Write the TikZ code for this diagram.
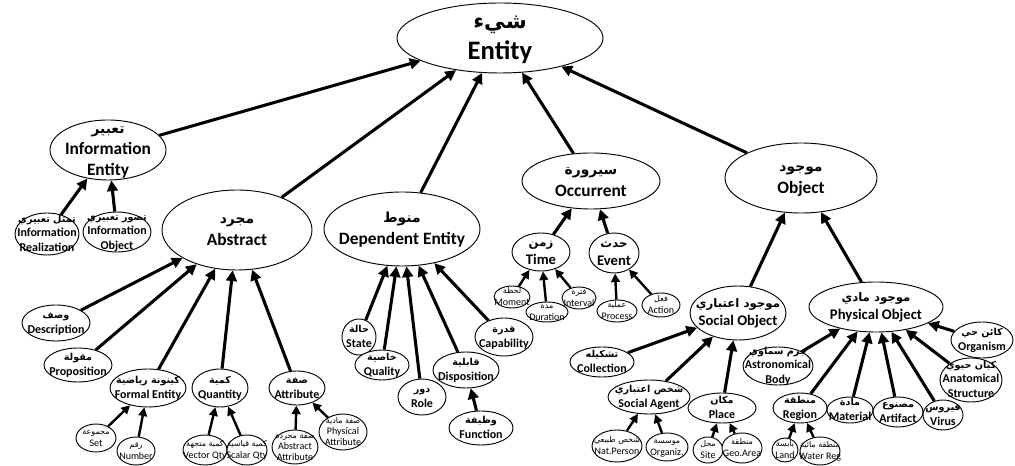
\documentclass[tikz,border=0pt]{standalone}
\usepackage{fontspec}
\setmainfont{Carlito}
\newfontfamily\arabicfont[Script=Arabic,Scale=0.8]{DejaVu Sans}
\usetikzlibrary{shapes.geometric,arrows.meta}
\TeXXeTstate=1

% Arabic line over English line, zero-size so the ellipse keeps its own size
\newcommand{\entlbl}[2]{\smash{\makebox[0pt]{\raisebox{-0.25em}{%
  \begin{tabular}{@{}c@{}}{\arabicfont\beginR #1\endR}\\ #2\end{tabular}}}}}

\tikzset{
  ell/.style={ellipse, draw, line width=0.7pt, inner sep=0pt, fill=white},
  es/.style 2 args={minimum width=#1*1.5pt, minimum height=#2*1.5pt},
  rootnode/.style={ell, font=\fontsize{20}{23}\selectfont\bfseries},
  mainnode/.style={ell, font=\fontsize{13}{16}\selectfont\bfseries},
  midnode/.style={ell, font=\fontsize{11}{13.5}\selectfont\bfseries},
  subnode/.style={ell, font=\fontsize{9}{11}\selectfont\bfseries},
  leafnode/.style={ell, font=\fontsize{7.5}{8.5}\selectfont},
  isa/.style={line width=2.3pt, -{Triangle[length=8pt,width=8pt]}},
  isathin/.style={line width=1.8pt, -{Triangle[length=6.5pt,width=6.5pt]}},
}

\begin{document}
\begin{tikzpicture}[x=0.75pt, y=-0.75pt]

\useasboundingbox[fill=white] (0,0) rectangle (1015,466);

% ── Root and first level ──
\node[rootnode, es={103}{35}] (ent) at (500,38) {\entlbl{شيء}{Entity}};
\node[mainnode, es={58}{30}] (info) at (108,150) {\entlbl{تعبير}{Information\\Entity}};
\node[mainnode, es={75}{40}] (abs) at (237,230) {\entlbl{مجرد}{Abstract}};
\node[mainnode, es={78}{37}] (dep) at (402,229) {\entlbl{منوط}{Dependent Entity}};
\node[mainnode, es={69}{28}] (occ) at (591,181) {\entlbl{سيرورة}{Occurrent}};
\node[mainnode, es={76}{35}] (obj) at (801,178) {\entlbl{موجود}{Object}};

% ── Information entity ──
\node[subnode, es={32}{21}] (infreal) at (47,234) {\entlbl{تمثل تعبيري}{Information\\Realization}};
\node[subnode, es={34}{20}] (infobj) at (117,232) {\entlbl{تصور تعبيري}{Information\\Object}};

% ── Abstract ──
\node[subnode, es={34}{18}] (descr) at (56,323) {\entlbl{وصف}{Description}};
\node[subnode, es={34}{17}] (propos) at (78,365) {\entlbl{مقولة}{Proposition}};
\node[subnode, es={38}{19}] (formal) at (148,388) {\entlbl{كينونة رياضية}{Formal Entity}};
\node[subnode, es={28}{19}] (quantity) at (220,388) {\entlbl{كمية}{Quantity}};
\node[subnode, es={28}{17}] (attribute) at (297,388) {\entlbl{صفة}{Attribute}};
\node[leafnode, es={20}{14}] (set) at (96,438) {\entlbl{مجموعة}{Set}};
\node[leafnode, es={19}{14}] (number) at (136,451) {\entlbl{رقم}{Number}};
\node[leafnode, es={22}{15}] (vector) at (205,450) {\entlbl{كمية متجهة}{Vector Qty}};
\node[leafnode, es={20}{15}] (scalar) at (247,450) {\entlbl{كمية قياسية}{Scalar Qty}};
\node[leafnode, es={23}{17}] (absattr) at (295,447) {\entlbl{صفة مجردة}{Abstract\\Attribute}};
\node[leafnode, es={24}{18}] (physattr) at (343,432) {\entlbl{صفة مادية}{Physical\\Attribute}};

% ── Dependent entity ──
\node[subnode, es={17}{18}] (state) at (359,337) {\entlbl{حالة}{State}};
\node[subnode, es={27}{15}] (quality) at (382,365) {\entlbl{خاصية}{Quality}};
\node[subnode, es={24}{18}] (role) at (422,397) {\entlbl{دور}{Role}};
\node[subnode, es={33}{18}] (dispos) at (466,370) {\entlbl{قابلية}{Disposition}};
\node[subnode, es={29}{19}] (capab) at (504,337) {\entlbl{قدرة}{Capability}};
\node[subnode, es={32}{17}] (function) at (481,428) {\entlbl{وظيفة}{Function}};

% ── Occurrent ──
\node[midnode, es={29}{19}] (time) at (541,252) {\entlbl{زمن}{Time}};
\node[midnode, es={25}{20}] (event) at (614,253) {\entlbl{حدث}{Event}};
\node[leafnode, es={18}{11}] (moment) at (512,297) {\entlbl{لحظة}{Moment}};
\node[leafnode, es={21}{10}] (duration) at (547,312) {\entlbl{مدة}{Duration}};
\node[leafnode, es={17}{11}] (interval) at (579,298) {\entlbl{فترة}{Interval}};
\node[leafnode, es={20}{11}] (process) at (617,311) {\entlbl{عملية}{Process}};
\node[leafnode, es={19}{12}] (action) at (661,305) {\entlbl{فعل}{Action}};

% ── Object ──
\node[midnode, es={48}{27}] (socobj) at (738,313) {\entlbl{موجود اعتباري}{Social Object}};
\node[midnode, es={67}{25}] (physobj) at (876,307) {\entlbl{موجود مادي}{Physical Object}};

\node[subnode, es={32}{15}] (collection) at (602,362) {\entlbl{تشكيله}{Collection}};
\node[subnode, es={41}{17}] (agent) at (649,397) {\entlbl{شخص اعتباري}{Social Agent}};
\node[subnode, es={34}{15}] (place) at (722,408) {\entlbl{مكان}{Place}};
\node[leafnode, es={25}{16}] (natperson) at (617,446) {\entlbl{شخص طبيعي}{Nat.Person}};
\node[leafnode, es={21}{14}] (organiz) at (667,447) {\entlbl{موسسة}{Organiz.}};
\node[leafnode, es={15}{13}] (site) at (708,450) {\entlbl{محل}{Site}};
\node[leafnode, es={20}{15}] (geoarea) at (742,448) {\entlbl{منطقة}{Geo.Area}};

\node[subnode, es={31}{18}] (organism) at (982,340) {\entlbl{كائن حي}{Organism}};
\node[subnode, es={31}{22}] (anat) at (971,380) {\entlbl{كيان حيوي}{Anatomical\\Structure}};
\node[subnode, es={35}{19}] (astro) at (778,366) {\entlbl{جرم سماوي}{Astronomical\\Body}};
\node[subnode, es={27}{15}] (region) at (800,408) {\entlbl{منطقة}{Region}};
\node[subnode, es={23}{13}] (material) at (850,410) {\entlbl{مادة}{Material}};
\node[subnode, es={25}{15}] (artifact) at (898,412) {\entlbl{مصنوع}{Artifact}};
\node[subnode, es={20}{15}] (virus) at (943,415) {\entlbl{فيروس}{Virus}};
\node[leafnode, es={13}{12}] (land) at (785,450) {\entlbl{يابسة}{Land}};
\node[leafnode, es={20}{14}] (water) at (820,451) {\entlbl{منطقة مائية}{Water Reg}};

% ── Is-a links ──
\foreach \c/\p in {info/ent, abs/ent, dep/ent, occ/ent, obj/ent,
    infreal/info, infobj/info,
    descr/abs, propos/abs, formal/abs, quantity/abs, attribute/abs,
    state/dep, quality/dep, role/dep, dispos/dep, capab/dep,
    time/occ, event/occ, socobj/obj, physobj/obj,
    collection/socobj, agent/socobj, place/socobj,
    astro/physobj, region/physobj, material/physobj, artifact/physobj,
    virus/physobj, anat/physobj, organism/physobj, function/dispos}
  \draw[isa] (\c) -- (\p);

\foreach \c/\p in {set/formal, number/formal, vector/quantity, scalar/quantity,
    absattr/attribute, physattr/attribute,
    moment/time, duration/time, interval/time, process/event, action/event,
    natperson/agent, organiz/agent, site/place, geoarea/place,
    land/region, water/region}
  \draw[isathin] (\c) -- (\p);

\end{tikzpicture}
\end{document}
